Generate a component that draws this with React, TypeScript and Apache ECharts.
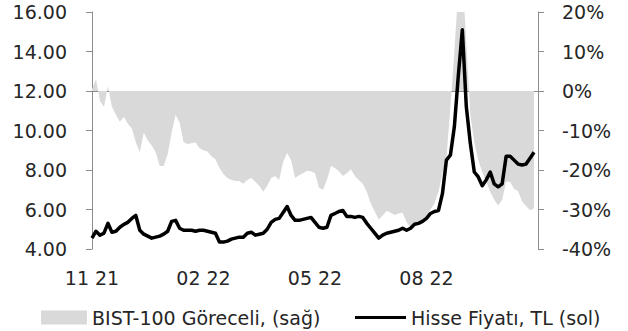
import React, { useEffect, useRef } from "react";
import * as echarts from "echarts";

// tick labels of the x axis (one every quarter, 28 points apart)
const xTickLabels: string[] = ["11 21", "02 22", "05 22", "08 22", ""];
const pointsPerTick = 28;

// Hisse Fiyatı, TL (sol) – left axis
const price: number[] = [
  4.55, 4.9, 4.7, 4.8, 5.3, 4.85, 4.9, 5.1, 5.25, 5.35,
  5.55, 5.7, 4.95, 4.75, 4.65, 4.55, 4.6, 4.65, 4.75, 4.9,
  5.4, 5.45, 5.05, 4.95, 4.95, 4.95, 4.9, 4.95, 4.95, 4.9,
  4.85, 4.8, 4.35, 4.35, 4.4, 4.5, 4.55, 4.6, 4.6, 4.8,
  4.85, 4.7, 4.75, 4.8, 5.0, 5.35, 5.5, 5.55, 5.85, 6.15,
  5.7, 5.45, 5.45, 5.5, 5.55, 5.6, 5.35, 5.1, 5.05, 5.1,
  5.7, 5.8, 5.9, 5.95, 5.65, 5.65, 5.6, 5.65, 5.6, 5.3,
  5.05, 4.8, 4.55, 4.7, 4.8, 4.85, 4.9, 4.95, 5.05, 4.95,
  5.05, 5.25, 5.3, 5.4, 5.55, 5.8, 5.9, 5.95, 6.8, 8.5,
  8.75, 10.2, 12.8, 15.1, 11.2, 9.35, 7.9, 7.65, 7.2, 7.5,
  7.9, 7.3, 7.15, 7.3, 8.7, 8.7, 8.5, 8.3, 8.25, 8.3,
  8.6, 8.9,
];

// BIST-100 Göreceli, (sağ) – right axis, percent
const relative: number[] = [
  0.5, 3, -2.5, -4, 1.2, -4, -6, -7.8, -6.5, -8.3,
  -9.5, -13, -15.5, -10.5, -12.5, -13.8, -15.5, -19, -19, -16,
  -10.5, -6, -8, -13, -13.4, -13.2, -13, -14.5, -15, -15.3,
  -16.5, -17.3, -19.5, -21, -22, -22.5, -22.8, -22.8, -23.5, -22.5,
  -22, -23, -24, -25.5, -24, -22, -21.5, -22.5, -18, -15.7,
  -17.5, -22, -21.3, -20.8, -20.2, -20.3, -20.8, -24.5, -25, -22.5,
  -19, -19.5, -20.3, -21.5, -20.8, -19.8, -21.5, -22.5, -23.5, -25.5,
  -28.5, -30.5, -32.5, -31.5, -30.3, -30.8, -31.4, -31, -30.8, -33.2,
  -34.5, -34.3, -33.5, -32.8, -31.5, -30, -28.5, -25.5, -21, -17,
  -4, 10, 26, 30, 12, -6, -13, -17.5, -20.5, -23,
  -25.5, -27.5, -29, -27.5, -23, -23, -24.8, -25.3, -28, -29.1,
  -30.2, -29.7,
];

const nameArea = "BIST-100 Göreceli, (sağ)";
const nameLine = "Hisse Fiyatı, TL (sol)";

const categories: string[] = Array.from(
  { length: (xTickLabels.length - 1) * pointsPerTick + 1 },
  (_, i) => (i % pointsPerTick === 0 ? xTickLabels[i / pointsPerTick] : "")
);

const FONT = "DejaVu Sans";
const TEXT = "#262626";
const AXIS = "#8c8c8c";

export default function App() {
  const ref = useRef<HTMLDivElement>(null);
  useEffect(() => {
    document.body.style.margin = "0";
    if (!ref.current) return;
    const chart = echarts.init(ref.current, undefined, { renderer: "svg" });
    const isTick = (index: number) => index % pointsPerTick === 0;
    chart.setOption({
      animation: false,
      backgroundColor: "#ffffff",
      textStyle: { fontFamily: FONT, color: TEXT },
      grid: { left: 92, right: 90, top: 12, bottom: 82, containLabel: false },
      legend: [
        {
          data: [{ name: nameArea, icon: "rect" }],
          left: 36,
          top: 303,
          itemWidth: 46,
          itemHeight: 14,
          itemStyle: { color: "#d9d9d9", borderWidth: 0 },
          lineStyle: { width: 0 },
          textStyle: { fontFamily: FONT, fontSize: 19, color: TEXT },
        },
        {
          data: [{ name: nameLine, icon: "rect" }],
          left: 350,
          top: 303,
          itemWidth: 51,
          itemHeight: 3,
          itemStyle: { color: "#000000", borderWidth: 0 },
          lineStyle: { width: 0 },
          textStyle: { fontFamily: FONT, fontSize: 19, color: TEXT },
        },
      ],
      xAxis: {
        type: "category",
        data: categories,
        boundaryGap: false,
        axisLine: { lineStyle: { color: AXIS, width: 1 } },
        axisTick: { interval: isTick, length: 6, lineStyle: { color: AXIS } },
        axisLabel: {
          interval: isTick,
          margin: 19,
          fontFamily: FONT,
          fontSize: 19,
          color: TEXT,
        },
        splitLine: { show: false },
      },
      yAxis: [
        {
          type: "value",
          min: 4,
          max: 16,
          interval: 2,
          position: "left",
          axisLine: { show: true, lineStyle: { color: AXIS } },
          axisTick: { show: true, length: 6, lineStyle: { color: AXIS } },
          axisLabel: {
            margin: 25,
            fontFamily: FONT,
            fontSize: 19,
            color: TEXT,
            formatter: (v: number) => v.toFixed(2),
          },
          splitLine: { show: false },
        },
        {
          type: "value",
          min: -40,
          max: 20,
          interval: 10,
          position: "right",
          axisLine: { show: true, lineStyle: { color: AXIS } },
          axisTick: { show: true, length: 6, lineStyle: { color: AXIS } },
          axisLabel: {
            margin: 24,
            fontFamily: FONT,
            fontSize: 19,
            color: TEXT,
            formatter: (v: number) => v + "%",
          },
          splitLine: { show: false },
        },
      ],
      series: [
        {
          name: nameArea,
          type: "line",
          yAxisIndex: 1,
          data: relative,
          symbol: "none",
          lineStyle: { width: 0 },
          itemStyle: { color: "#d9d9d9" },
          areaStyle: { color: "#d9d9d9", opacity: 1, origin: 0 },
          z: 1,
        },
        {
          name: nameLine,
          type: "line",
          yAxisIndex: 0,
          data: price,
          symbol: "none",
          lineStyle: { width: 3.5, color: "#000000", join: "round" },
          itemStyle: { color: "#000000" },
          z: 3,
        },
      ],
    });
    return () => chart.dispose();
  }, []);
  return <div ref={ref} style={{ width: 628, height: 331 }} />;
}
